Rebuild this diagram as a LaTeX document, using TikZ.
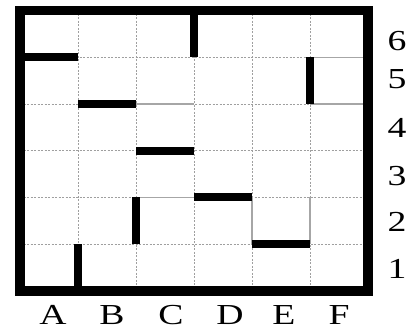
\documentclass[tikz,border=0pt]{standalone}
\usepackage{fontspec}
\setmainfont{Liberation Serif}
\begin{document}
\begin{tikzpicture}[x=1pt,y=-1pt,
  gridline/.style={gray!75, line width=0.9pt, dash pattern=on 2pt off 1.5pt},
  softline/.style={gray!70, line width=1.2pt},
  wall/.style={black, line width=8pt},
  frame/.style={black, line width=9.5pt},
  lbl/.style={font=\fontsize{29}{29}\selectfont, inner sep=0pt, anchor=base, xscale=1.3}]
\useasboundingbox[fill=white] (0,0) rectangle (408,331);
% grid coordinates
\def\xA{20}\def\xB{78}\def\xC{136}\def\xD{194}\def\xE{252}\def\xF{310}\def\xG{368}
\def\yA{10.5}\def\yB{57.25}\def\yC{104}\def\yD{150.75}\def\yE{197.5}\def\yF{244.25}\def\yG{291}
% dashed grid
\foreach \x in {\xB,\xC,\xD,\xE,\xF}
  \draw[gridline] (\x,\yA) -- (\x,\yG);
\foreach \y in {\yB,\yC,\yD,\yE,\yF}
  \draw[gridline] (\xA,\y) -- (\xG,\y);
% solid grey segments
\draw[softline] (\xF,\yB) -- (\xG,\yB);
\draw[softline] (\xF,\yC) -- (\xG,\yC);
\draw[softline] (\xC,\yC) -- (\xD,\yC);
\draw[softline] (\xE,\yE) -- (\xE,\yF);
\draw[softline] (\xF,\yE) -- (\xF,\yF);
\draw[softline] (\xC,\yE) -- (\xD,\yE);
% thick walls
\draw[wall] (\xD,\yA) -- (\xD,\yB);
\draw[wall] (\xA,\yB) -- (\xB,\yB);
\draw[wall] (\xF,\yB) -- (\xF,\yC);
\draw[wall] (\xB,\yC) -- (\xC,\yC);
\draw[wall] (\xC,\yD) -- (\xD,\yD);
\draw[wall] (\xC,\yE) -- (\xC,\yF);
\draw[wall] (\xD,\yE) -- (\xE,\yE);
\draw[wall] (\xE,\yF) -- (\xF,\yF);
\draw[wall] (\xB,\yF) -- (\xB,\yG);
% frame
\draw[frame] (\xA,\yA) rectangle (\xG,\yG);
% column labels
\node[lbl] (cA) at (53,325) {A};
\node[lbl] (cB) at (112,325) {B};
\node[lbl] (cC) at (171,325) {C};
\node[lbl] (cD) at (230,325) {D};
\node[lbl] (cE) at (284,325) {E};
\node[lbl] (cF) at (339,325) {F};
% row labels
\node[lbl] (r6) at (397,51) {6};
\node[lbl] (r5) at (397,89) {5};
\node[lbl] (r4) at (397,138) {4};
\node[lbl] (r3) at (397,186) {3};
\node[lbl] (r2) at (397,232) {2};
\node[lbl] (r1) at (397,279) {1};
\end{tikzpicture}
\end{document}
